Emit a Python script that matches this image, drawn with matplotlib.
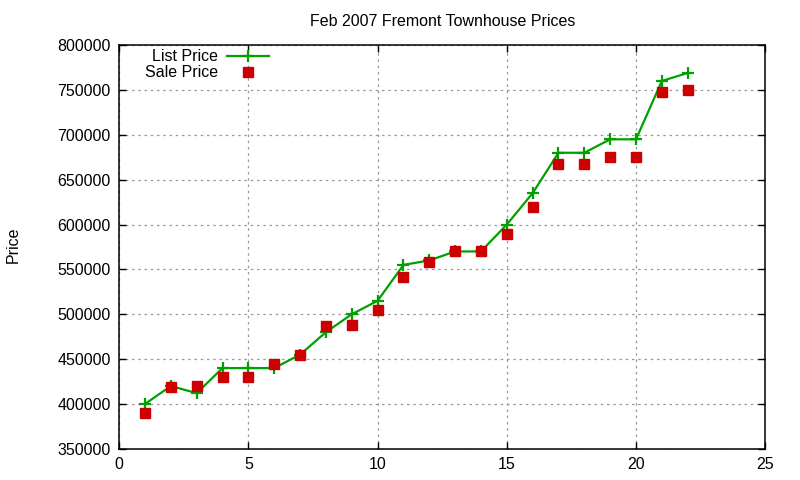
import matplotlib
matplotlib.use("Agg")
import matplotlib.pyplot as plt

x_vals = list(range(1, 23))
list_price = [400000, 420000, 412000, 440000, 440000, 440000, 455000, 480000,
              500000, 515000, 555000, 560000, 570000, 570000, 600000, 635000,
              680000, 680000, 695000, 695000, 760000, 769000]
sale_price = [390000, 419000, 420000, 430000, 430000, 445000, 455000, 487000,
              488000, 505000, 542000, 558000, 570000, 570000, 590000, 620000,
              667000, 667000, 675000, 675000, 748000, 750000]
x_ticks = [0, 5, 10, 15, 20, 25]
y_ticks = [350000, 400000, 450000, 500000, 550000, 600000, 650000, 700000, 750000, 800000]

plt.rcParams['font.family'] = ['Liberation Sans', 'DejaVu Sans']
plt.rcParams['font.size'] = 11.5

fig = plt.figure(figsize=(8, 4.8), dpi=100)
ax = fig.add_axes([0.149, 0.065, 0.8075, 0.841])

ax.plot(x_vals, list_price, color='#00a000', lw=1.6, marker='+', ms=8, mew=1.6,
        label='List Price', zorder=3)
ax.plot(x_vals, sale_price, color='#cc0000', lw=0, marker='s', ms=6.5,
        label='Sale Price', zorder=4)

ax.set_xlim(0, 25)
ax.set_ylim(350000, 800000)
ax.set_xticks(x_ticks)
ax.set_yticks(y_ticks)
ax.set_yticklabels([str(v) for v in y_ticks])
ax.tick_params(direction='in', length=5, width=1, top=True, right=True,
               labelsize=11.5, colors='black', pad=6)
ax.grid(True, color='#999999', linestyle=(0, (2, 3)), lw=0.9)
for s in ax.spines.values():
    s.set_linewidth(1.1)

ax.set_title('Feb 2007 Fremont Townhouse Prices', fontsize=11.5, pad=14)
fig.text(0.016, 0.49, 'Price', rotation=90, ha='center', va='center', fontsize=11.5)

leg = ax.legend(loc='upper left', markerfirst=False, frameon=False,
                bbox_to_anchor=(0.022, 1.017), handlelength=2.6, handletextpad=0.6,
                labelspacing=0.05, borderaxespad=0.3, fontsize=11.5)
for t in leg.get_texts():
    t.set_ha('right')
leg._legend_box.align = 'right'

fig.savefig('out.png', dpi=100)
